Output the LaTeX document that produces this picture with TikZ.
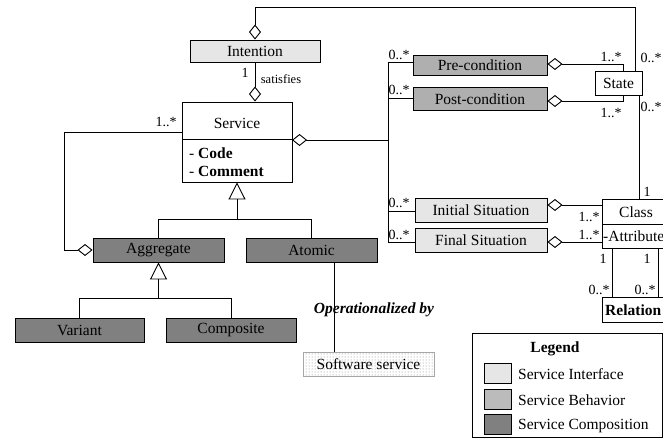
\documentclass[tikz,border=0pt]{standalone}
\usepackage{fontspec}
\setmainfont{Liberation Serif}
\usetikzlibrary{arrows.meta,patterns}
\definecolor{ifacefill}{HTML}{E6E6E6}
\definecolor{behavfill}{HTML}{AFAFAF}
\definecolor{compfill}{HTML}{808080}

\tikzset{
  box/.style={draw, line width=0.9pt, inner sep=0pt, font=\fontsize{15.5}{18}\selectfont},
  iface/.style={box, fill=ifacefill},
  behav/.style={box, fill=behavfill},
  comp/.style={box, fill=compfill},
  txt/.style={inner sep=0pt, font=\fontsize{15.5}{18}\selectfont},
  mult/.style={inner sep=0pt, font=\fontsize{14}{16}\selectfont},
  conn/.style={line width=0.9pt},
  agg/.style={conn, {Diamond[open,length=15pt,width=12pt]}-},
  aggend/.style={conn, -{Diamond[open,length=15pt,width=12pt]}},
  gen/.style={conn, -{Triangle[open,length=17pt,width=17pt]}},
}

\begin{document}
\begin{tikzpicture}[x=1pt,y=-1pt]
\useasboundingbox (0,0) rectangle (663,441);
\clip (0,0) rectangle (663,441);

% ---- classes ----
\node[iface, minimum width=130pt, minimum height=22pt] (intention) at (255,51) {Intention};

\node[box, minimum width=110pt, minimum height=80pt] (service) at (237,142) {};
\draw[conn] (182,139) -- (292,139);
\node[txt] (svctitle) at (237,123) {Service};
\node[txt, anchor=west, align=left, font=\fontsize{15.5}{18}\selectfont] (svcattr) at (189,162)
  {- \textbf{Code}\\- \textbf{Comment}};

\node[behav, minimum width=134pt, minimum height=20pt] (pre) at (480,65) {Pre-condition};
\node[behav, minimum width=134pt, minimum height=23pt] (post) at (480,99) {Post-condition};
\node[box, fill=white, minimum width=47pt, minimum height=24pt] (state) at (618.5,83) {State};

\node[iface, minimum width=132pt, minimum height=24pt] (init) at (481,210) {Initial Situation};
\node[iface, minimum width=132pt, minimum height=24pt] (final) at (481,240) {Final Situation};

\node[box, minimum width=68pt, minimum height=49pt] (class) at (636,223.5) {};
\draw[conn] (602,224) -- (670,224);
\node[txt] (classname) at (636,212) {Class};
\node[txt, anchor=west] (classattr) at (603,236) {-Attribute};

\node[box, minimum width=72pt, minimum height=25pt] (relation) at (638,309.5) {};
\node[txt, anchor=west] (relname) at (605,310) {\textbf{Relation}};

\node[comp, minimum width=131pt, minimum height=24pt] (aggregate) at (158.5,250) {Aggregate};
\node[comp, minimum width=131pt, minimum height=24pt] (atomic) at (311.5,250) {Atomic};
\node[comp, minimum width=129pt, minimum height=24pt] (variant) at (79.5,330) {Variant};
\node[comp, minimum width=130pt, minimum height=24pt] (composite) at (231,330) {Composite};

\node[box, draw=gray!70, pattern=dots, pattern color=gray,
      minimum width=131pt, minimum height=24pt] (software) at (368.5,364) {};
\node[txt] (softname) at (368.5,364) {Software service};

% ---- connectors ----
\coordinate (topY) at (0,7);
\coordinate (stTop) at (635,71);
\draw[agg] (intention.north) -- (intention.north |- topY) -| (stTop);
\node[mult] (mTop) at (651,58) {0..*};

\draw[aggend] (intention.south) -- (intention.south |- service.north);
\node[mult] (mSat1) at (245,73) {1};
\node[inner sep=0pt, font=\fontsize{12.5}{14}\selectfont] (mSat2) at (281,79) {satisfies};

\coordinate (svcL) at (182,132);
\coordinate (aggX) at (64,132);
\draw[aggend] (svcL) -- (aggX) |- (aggregate.west);
\node[mult] (mSvc) at (166,122) {1..*};

\coordinate (svcR) at (292,140);
\coordinate (busMid) at (388,140);
\draw[agg] (svcR) -- (busMid);

\coordinate (busPre) at (388,62);
\coordinate (busPost) at (388,98);
\coordinate (busInit) at (388,211);
\coordinate (busFinal) at (388,242);
\draw[conn] (busPre) -- (busFinal);
\draw[conn] (busPre) -- (busPre -| pre.west);
\draw[conn] (busPost) -- (busPost -| post.west);
\draw[conn] (busInit) -- (busInit -| init.west);
\draw[conn] (busFinal) -- (busFinal -| final.west);
\node[mult] (mPre) at (399,55) {0..*};
\node[mult] (mPost) at (399,90) {0..*};
\node[mult] (mInit) at (399,203) {0..*};
\node[mult] (mFinal) at (399,235) {0..*};

\coordinate (stPre) at (623,71);
\coordinate (stPost) at (623,95);
\draw[agg] ([yshift=1pt]pre.east) -| (stPre);
\draw[agg] ([yshift=-2pt]post.east) -| (stPost);
\node[mult] (mStPre) at (611,57) {1..*};
\node[mult] (mStPost) at (611,113) {1..*};

\coordinate (stBot) at (639,95);
\draw[conn] (stBot) -- (stBot |- class.north);
\node[mult] (mStCl1) at (651,107) {0..*};
\node[mult] (mStCl2) at (647,192) {1};

\draw[agg] ([yshift=5pt]init.east) -- ([yshift=5pt]init.east -| class.west);
\draw[agg] ([yshift=-2pt]final.east) -- ([yshift=-2pt]final.east -| class.west);
\node[mult] (mClI) at (589,217) {1..*};
\node[mult] (mClF) at (589,235) {1..*};

\coordinate (relA) at (612,248);
\coordinate (relB) at (658,248);
\draw[conn] (relA) -- (relA |- relation.north);
\draw[conn] (relB) -- (relB |- relation.north);
\node[mult] (mR1) at (603,259) {1};
\node[mult] (mR2) at (647,259) {1};
\node[mult] (mR3) at (599,290) {0..*};
\node[mult] (mR4) at (645,290) {0..*};

% generalisations
\coordinate (g1) at (237,219);
\draw[conn] (aggregate.north) |- (atomic.north |- g1) -- (atomic.north);
\draw[gen] (g1) -- (service.south);
\coordinate (g2) at (158.5,298);
\draw[conn] (variant.north) |- (composite.north |- g2) -- (composite.north);
\draw[gen] (g2) -- (aggregate.south);

% operationalisation
\coordinate (opX) at (334,0);
\draw[conn] (atomic.south -| opX) -- (software.north -| opX);
\node[txt, font=\fontsize{15.5}{18}\selectfont\bfseries\itshape] (oplabel) at (374,310) {Operationalized by};

% ---- legend ----
\node[box, minimum width=190pt, minimum height=104pt] (legend) at (567,385) {};
\node[txt] (legtitle) at (555,349) {\textbf{Legend}};
\node[iface, minimum width=27pt, minimum height=20pt] (swI) at (497.5,373) {};
\node[box, fill=behavfill!85!white, minimum width=27pt, minimum height=20pt] (swB) at (497.5,399) {};
\node[comp, minimum width=27pt, minimum height=20pt] (swC) at (497.5,424.5) {};
\node[txt, anchor=west] (legI) at (518,374) {Service Interface};
\node[txt, anchor=west] (legB) at (518,400) {Service Behavior};
\node[txt, anchor=west] (legC) at (518,426) {Service Composition};
\end{tikzpicture}
\end{document}
